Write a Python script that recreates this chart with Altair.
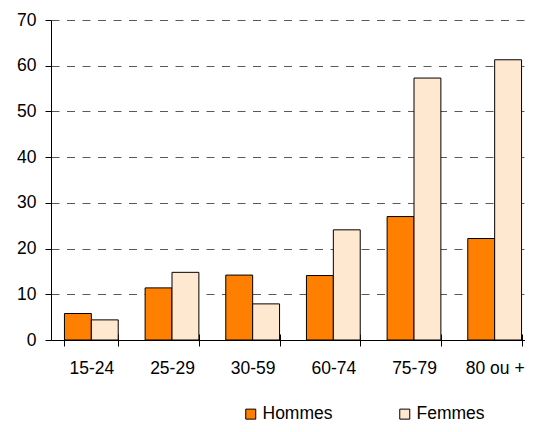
import altair as alt
import pandas as pd

categories = ["15-24", "25-29", "30-59", "60-74", "75-79", "80 ou +"]
hommes = [5.8, 11.4, 14.2, 14.1, 27.0, 22.2]
femmes = [4.4, 14.8, 7.9, 24.1, 57.3, 61.3]
series = ["Hommes", "Femmes"]
colors = ["#FF8000", "#FFE8CF"]

rows = []
for c, h, f in zip(categories, hommes, femmes):
    rows.append({"age": c, "sexe": "Hommes", "val": h})
    rows.append({"age": c, "sexe": "Femmes", "val": f})
df = pd.DataFrame(rows)

FONT = "Liberation Sans"
FS = 17.5

bars = alt.Chart(df).mark_bar(stroke="black", strokeWidth=1).encode(
    x=alt.X("age:N", sort=categories,
            scale=alt.Scale(range=[0, 484], paddingInner=1/3, paddingOuter=1/6),
            axis=alt.Axis(title=None, labelAngle=0, tickBand="extent",
                          labelPadding=13, tickSize=6, domainColor="black",
                          tickColor="black", labelFontSize=FS, labelFont=FONT,
                          labelColor="black")),
    xOffset=alt.XOffset("sexe:N", sort=series,
                        scale=alt.Scale(paddingInner=0, paddingOuter=0)),
    y=alt.Y("val:Q", scale=alt.Scale(domain=[0, 70], nice=False),
            axis=alt.Axis(title=None, values=list(range(0, 71, 10)),
                          grid=True, gridDash=[8, 7.5], gridColor="#595959",
                          gridWidth=1, tickSize=6, tickColor="black",
                          domainColor="black", labelFontSize=FS,
                          labelFont=FONT, labelColor="black",
                          labelPadding=9)),
    color=alt.Color("sexe:N", sort=series,
                    scale=alt.Scale(domain=series, range=colors),
                    legend=alt.Legend(title=None, orient="none",
                                      legendX=191, legendY=385,
                                      direction="horizontal", columns=2,
                                      columnPadding=63,
                                      symbolType="square", symbolSize=100,
                                      symbolStrokeColor="black",
                                      symbolStrokeWidth=1,
                                      labelFontSize=FS, labelFont=FONT,
                                      labelColor="black", labelOffset=3)),
)

# upper half of the crossing x ticks
ticks = alt.Chart(df).mark_bar(opacity=0).encode(
    x=alt.X("age:N", sort=categories,
            axis=alt.Axis(title=None, orient="top", offset=-320,
                          tickBand="extent", labels=False, domain=False,
                          grid=False, tickSize=6, tickColor="black")),
)

chart = alt.layer(bars, ticks).resolve_axis(x="independent").properties(
    width=474, height=320,
    autosize=alt.AutoSizeParams(type="none"),
    padding={"left": 43, "top": 12, "right": 0, "bottom": 84},
).configure_view(stroke=None)

chart.save("out.html", embed_options={"renderer": "svg", "actions": False})
